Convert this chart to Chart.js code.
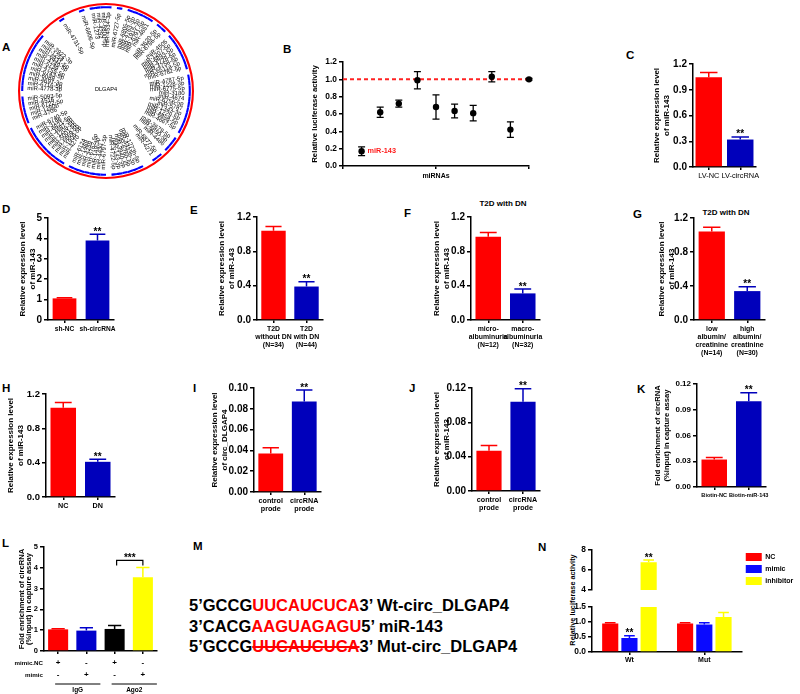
<!DOCTYPE html>
<html>
<head>
<meta charset="utf-8">
<script src="https://cdn.jsdelivr.net/npm/chart.js@4.4.0/dist/chart.umd.min.js"></script>
<style>
  body { margin: 0; width: 800px; height: 694px; position: relative; overflow: hidden; background: #fff;
         font-family: 'Liberation Sans', Arial, sans-serif; color: #000; }
  .lt { position: absolute; font-weight: bold; font-size: 11.5px; line-height: 12px; }
  .sub { position: absolute; font-weight: bold; font-size: 8px; line-height: 10px; white-space: nowrap; transform: translateX(-50%); }
  .vt { position: absolute; font-weight: bold; white-space: nowrap; transform: translate(-50%, -50%) rotate(-90deg); }
  .seq { position: absolute; left: 189px; font-weight: bold; font-size: 16.5px; line-height: 16.5px; white-space: nowrap; }
  .r { color: #ff0000; }
  .s { text-decoration: line-through; text-decoration-color: #ff0000; text-decoration-thickness: 2px; }
</style>
</head>
<body>

<div class="lt" style="left:2px;top:41px">A</div>
<div class="lt" style="left:283px;top:43px">B</div>
<div class="lt" style="left:626px;top:49px">C</div>
<div class="lt" style="left:2px;top:203px">D</div>
<div class="lt" style="left:190px;top:204px">E</div>
<div class="lt" style="left:404px;top:207px">F</div>
<div class="lt" style="left:633px;top:208px">G</div>
<div class="lt" style="left:2px;top:382px">H</div>
<div class="lt" style="left:193px;top:382px">I</div>
<div class="lt" style="left:409px;top:382px">J</div>
<div class="lt" style="left:637px;top:383px">K</div>
<div class="lt" style="left:2px;top:537px">L</div>
<div class="lt" style="left:193px;top:540px">M</div>
<div class="lt" style="left:538px;top:541px">N</div>

<div class="sub" style="left:503px;top:199px">T2D with DN</div>
<div class="sub" style="left:726px;top:208px">T2D with DN</div>

<div class="seq" style="top:597px">5’GCCG<span class="r">UUCAUCUCA</span>3’ Wt-circ_DLGAP4</div>
<div class="seq" style="top:618px">3’CACG<span class="r">AAGUAGAGU</span>5’ miR-143</div>
<div class="seq" style="top:638px">5’GCCG<span class="r s">UUCAUCUCA</span>3’ Mut-circ_DLGAP4</div>

<div class="vt" style="left:572px;top:600px;font-size:7.3px">Relative luciferase activity</div>

<script>
// ---------- DATA ----------
// A: predicted miRNAs around DLGAP4 ('' = empty slot on the ring)
const circNames = [
  'miR-4534-3p', '', 'miR-6727-5p', '',
  'miR-6805-5p', 'miR-4763-3p', 'miR-1915-3p', 'miR-6791-5p', 'miR-4651', '',
  'miR-3620-5p', 'miR-6786-5p', '',
  'miR-4505', 'miR-1207-5p', 'miR-6893-5p', 'miR-4728-5p', 'miR-4758-5p', 'miR-6511a-5p', 'miR-6782-5p', '',
  'miR-4787-5p', 'miR-1228-3p', 'miR-6775-5p', 'miR-3180', 'miR-4674',
  'miR-6756-5p', 'miR-5787', 'miR-1343-3p', 'miR-1229-5p', 'miR-6858-5p', 'miR-4667-5p', '',
  'miR-3679-5p', 'miR-6850-5p', 'miR-4486', '',
  'miR-6877-5p', 'miR-4271', '', '',
  'miR-1273h-5p', 'miR-4433b-3p',
  'miR-6760-5p', 'miR-3940-5p', 'miR-143-3p', 'miR-4722-5p', '',
  'miR-6797-5p', 'miR-4430', 'miR-149-3p', 'miR-6762-5p', 'miR-4259', 'miR-1469', 'miR-6124', '',
  'miR-4270', 'miR-1908-5p', 'miR-6869-5p', 'miR-5001-5p', 'miR-1208-5p', 'miR-4687-3p', 'miR-6821-5p', 'miR-3196', 'miR-6740-5p', '',
  'miR-4706', 'miR-1260b', 'miR-6722-5p', 'miR-4516', 'miR-5093-5p', '',
  'miR-4778-3p', 'miR-6716-5p', 'miR-4697-3p',
  'miR-6089', 'miR-6743-5p', 'miR-4755-5p', 'miR-5739', 'miR-4749-5p', 'miR-6831-5p', 'miR-1254', 'miR-3922-3p',
  '', '', '', '',
  'miR-4731-5p', '', '', '',
  'miR-6806-5p', '',
  'miR-1273', 'miR-4292', 'miR-6800-5p'
];
const CIRC_CENTER = 'DLGAP4';

// B: luciferase screen
const B_X = [1, 2, 3, 4, 5, 6, 7, 8, 9, 10];
const B_VAL = [0.17, 0.62, 0.72, 0.99, 0.68, 0.635, 0.61, 1.03, 0.42, 1.00];
const B_ERR = [0.05, 0.06, 0.04, 0.10, 0.14, 0.08, 0.09, 0.06, 0.09, 0.01];
const B_REF = 1.0;
const B_XMIN = 0, B_XMAX = 10;

// C
const C_LABELS = ['LV-NC', 'LV-circRNA'];
const C_VAL = [1.045, 0.32];
const C_ERR = [0.055, 0.03];
// D
const D_LABELS = ['sh-NC', 'sh-circRNA'];
const D_VAL = [1.06, 3.9];
const D_ERR = [0.03, 0.3];
// E
const E_LABELS = [['T2D', 'without DN', '(N=34)'], ['T2D', 'with DN', '(N=44)']];
const E_VAL = [1.04, 0.39];
const E_ERR = [0.05, 0.055];
// F
const F_LABELS = [['micro-', 'albuminuria', '(N=12)'], ['macro-', 'albuminuria', '(N=32)']];
const F_VAL = [0.97, 0.31];
const F_ERR = [0.05, 0.05];
// G
const G_LABELS = [['low', 'albumin/', 'creatinine', '(N=14)'], ['high', 'albumin/', 'creatinine', '(N=30)']];
const G_VAL = [1.04, 0.34];
const G_ERR = [0.05, 0.05];
// H
const H_LABELS = ['NC', 'DN'];
const H_VAL = [1.04, 0.41];
const H_ERR = [0.06, 0.03];
// I
const I_LABELS = [['control', 'prode'], ['circRNA', 'prode']];
const I_VAL = [0.037, 0.087];
const I_ERR = [0.0055, 0.011];
// J
const J_LABELS = [['control', 'prode'], ['circRNA', 'prode']];
const J_VAL = [0.047, 0.104];
const J_ERR = [0.006, 0.015];
// K
const K_LABELS = ['Biotin-NC', 'Biotin-miR-143'];
const K_VAL = [0.032, 0.100];
const K_ERR = [0.0025, 0.0097];
// L: RIP
const L_COND = ['IgG mimic.NC', 'IgG mimic', 'Ago2 mimic.NC', 'Ago2 mimic'];
const L_VAL = [1.04, 0.98, 1.06, 3.54];
const L_ERR = [0.03, 0.14, 0.16, 0.48];
const L_MIMICNC = ['+', '-', '+', '-'];
const L_MIMIC = ['-', '+', '-', '+'];
const L_GROUPS = [{ label: 'IgG', from: 0, to: 1 }, { label: 'Ago2', from: 2, to: 3 }];
// N: luciferase Wt / Mut
const N_LABELS = ['Wt', 'Mut'];
const N_NC = [0.95, 0.95];
const N_NC_ERR = [0.03, 0.03];
const N_MIMIC = [0.47, 0.92];
const N_MIMIC_ERR = [0.07, 0.06];
const N_INHIB = [6.78, 1.17];
const N_INHIB_ERR = [0.22, 0.15];

const RED = '#ff0000', BLUE = '#0000bb', NBLUE = '#0a0aff', BLACK = '#000000', YELLOW = '#ffff00';

Chart.defaults.font.family = "'Liberation Sans', Arial, sans-serif";
Chart.defaults.color = '#000';

// ---------- HELPERS ----------
function place(l, t, w, h) {
  const c = document.createElement('canvas');
  c.width = w; c.height = h;
  c.style.cssText = `position:absolute;left:${l}px;top:${t}px;width:${w}px;height:${h}px`;
  document.body.appendChild(c);
  return c;
}

// upward SEM whisker + significance stars above bars
const errPlugin = {
  id: 'errBars',
  afterDatasetsDraw(chart) {
    const { ctx } = chart, y = chart.scales.y;
    chart.data.datasets.forEach((ds, di) => {
      if (!ds.errs) return;
      chart.getDatasetMeta(di).data.forEach((bar, i) => {
        const v = ds.data[i], e = ds.errs[i];
        if (v == null || v < y.min || v + e > y.max + 1e-9) return;
        const col = Array.isArray(ds.backgroundColor) ? ds.backgroundColor[i] : ds.backgroundColor;
        const yv = y.getPixelForValue(v), yt = y.getPixelForValue(v + e);
        const cap = Math.max(3, bar.width * 0.33);
        ctx.save();
        ctx.strokeStyle = col; ctx.lineWidth = 1.5;
        ctx.beginPath();
        ctx.moveTo(bar.x, yv); ctx.lineTo(bar.x, yt);
        ctx.moveTo(bar.x - cap, yt); ctx.lineTo(bar.x + cap, yt);
        ctx.stroke();
        if (ds.stars && ds.stars[i]) {
          ctx.fillStyle = '#000';
          ctx.font = "bold 10px 'Liberation Sans'";
          ctx.textAlign = 'center'; ctx.textBaseline = 'alphabetic';
          ctx.fillText(ds.stars[i], bar.x, yt + 0.5);
        }
        ctx.restore();
      });
    });
  }
};

function xCat(o) {
  const ax = {
    display: o.xDisplay ?? true,
    afterFit: s => { s.height = o.xH; },
    border: { color: '#000', width: 1.5 },
    grid: { drawOnChartArea: false, drawTicks: true, tickLength: 3, color: '#000', lineWidth: 1.5, offset: false },
    ticks: { padding: o.xPad ?? 2, autoSkip: false, maxRotation: 0, color: '#000',
             font: { size: o.labelSize ?? 7.2, weight: o.labelWeight ?? 'bold', lineHeight: 1.15 } }
  };
  if (o.hideLabels) ax.ticks.callback = () => '';
  return ax;
}

function yLin(o) {
  return {
    min: o.min, max: o.max,
    afterFit: s => { s.width = o.yW; },
    border: { color: '#000', width: 1.5 },
    grid: { drawOnChartArea: false, drawTicks: true, tickLength: 4, color: '#000', lineWidth: 1.5 },
    ticks: { stepSize: o.step, padding: 2, color: '#000', font: { size: o.tickSize ?? 10, weight: 'bold' },
             callback: v => Number(v).toFixed(o.dec) },
    title: { display: !!o.title, text: o.title || '', padding: 0, color: '#000',
             font: { size: o.titleSize ?? 8, weight: 'bold', lineHeight: o.titleLH ?? 1.2 } }
  };
}

function baseOpts(o, padT, padR, padL) {
  return {
    responsive: false, animation: false, events: [],
    layout: { padding: { top: padT, right: padR, left: padL, bottom: 0 } },
    plugins: { legend: { display: false }, tooltip: { enabled: false } },
    scales: { x: xCat(o), y: yLin(o) }
  };
}

function barPanel(o) {
  const padT = o.padT ?? 12, padR = o.padR ?? 8, padL = o.padL ?? 0;
  const c = place(o.x - o.yW - padL, o.top - padT,
                  o.right - o.x + o.yW + padL + padR, o.bottom - o.top + padT + o.xH);
  return new Chart(c, {
    type: 'bar',
    data: { labels: o.labels, datasets: [{
      data: o.values, errs: o.errs, stars: o.stars, backgroundColor: o.colors,
      borderWidth: 0, barPercentage: o.bp ?? 0.74, categoryPercentage: 1, clip: 0 }] },
    options: baseOpts(o, padT, padR, padL),
    plugins: [errPlugin].concat(o.plugins || [])
  });
}

const EXPR = ['Relative expression level', 'of miR-143'];
const FOLD = ['Fold enrichment of circRNA', '(%input) in capture assay'];

// ---------- A: ring of miRNAs ----------
const ringLabels = {
  id: 'ringLabels',
  afterDatasetsDraw(chart) {
    const { ctx } = chart;
    const arcs = chart.getDatasetMeta(2).data;
    ctx.save();
    ctx.fillStyle = '#000';
    ctx.font = "6px 'Liberation Sans'";
    ctx.textBaseline = 'middle';
    arcs.forEach((arc, i) => {
      const name = circNames[i];
      if (!name) return;
      const a = (arc.startAngle + arc.endAngle) / 2;
      const r = arc.innerRadius - 4;
      ctx.save();
      ctx.translate(arc.x, arc.y);
      if (Math.cos(a) >= 0) { ctx.rotate(a); ctx.textAlign = 'right'; ctx.fillText(name, r, 0); }
      else { ctx.rotate(a + Math.PI); ctx.textAlign = 'left'; ctx.fillText(name, -r, 0); }
      ctx.restore();
    });
    const a0 = arcs[0];
    ctx.textAlign = 'center';
    ctx.font = "5.6px 'Liberation Sans'";
    ctx.fillText(CIRC_CENTER, a0.x, a0.y - 2);
    ctx.restore();
  }
};

new Chart(place(16, 1, 180, 180), {
  type: 'doughnut',
  data: {
    labels: circNames,
    datasets: [
      { data: [1], backgroundColor: RED, borderWidth: 0, weight: 2 },
      { data: [1], backgroundColor: 'rgba(0,0,0,0)', borderWidth: 0, weight: 1 },
      { data: circNames.map(() => 1), backgroundColor: circNames.map(n => n ? '#0000ff' : 'rgba(0,0,0,0)'),
        borderWidth: 0, weight: 2 }
    ]
  },
  options: {
    responsive: false, animation: false, events: [], cutout: '94%',
    layout: { padding: 2 },
    plugins: { legend: { display: false }, tooltip: { enabled: false } }
  },
  plugins: [ringLabels]
});

// ---------- B: scatter with error bars ----------
const scatterErr = {
  id: 'scatterErr',
  afterDatasetsDraw(chart) {
    const { ctx } = chart, y = chart.scales.y;
    const ds = chart.data.datasets[0];
    ctx.save();
    ctx.strokeStyle = '#000'; ctx.lineWidth = 1.3;
    chart.getDatasetMeta(0).data.forEach((pt, i) => {
      const v = B_VAL[i], e = ds.errs[i];
      const y1 = y.getPixelForValue(v + e), y0 = y.getPixelForValue(v - e);
      ctx.beginPath();
      ctx.moveTo(pt.x, y0); ctx.lineTo(pt.x, y1);
      ctx.moveTo(pt.x - 3.5, y0); ctx.lineTo(pt.x + 3.5, y0);
      ctx.moveTo(pt.x - 3.5, y1); ctx.lineTo(pt.x + 3.5, y1);
      ctx.stroke();
    });
    const p0 = chart.getDatasetMeta(0).data[0];
    ctx.fillStyle = '#ff1a1a';
    ctx.font = "bold 7.3px 'Liberation Sans'";
    ctx.textAlign = 'left'; ctx.textBaseline = 'middle';
    ctx.fillText('miR-143', p0.x + 6, p0.y);
    ctx.restore();
  }
};

(function () {
  const o = { x: 343, top: 62, bottom: 166, right: 529, yW: 33, xH: 14,
              min: 0, max: 1.2, step: 0.2, dec: 1, tickSize: 8.4,
              title: 'Relative luciferase activity', titleSize: 7.8 };
  const padT = 8, padR = 6;
  new Chart(place(o.x - o.yW, o.top - padT, o.right - o.x + o.yW + padR, o.bottom - o.top + padT + o.xH), {
    type: 'scatter',
    data: { datasets: [
      { data: B_X.map((x, i) => ({ x, y: B_VAL[i] })), errs: B_ERR, backgroundColor: '#000',
        pointRadius: 3.2, borderWidth: 0, clip: false },
      { type: 'line', data: [{ x: B_XMIN, y: B_REF }, { x: B_XMAX, y: B_REF }], borderColor: '#ff2222',
        borderWidth: 2, borderDash: [4, 3], pointRadius: 0, fill: false }
    ] },
    options: {
      responsive: false, animation: false, events: [],
      layout: { padding: { top: padT, right: padR, left: 0, bottom: 0 } },
      plugins: { legend: { display: false }, tooltip: { enabled: false } },
      scales: {
        x: { type: 'linear', min: B_XMIN, max: B_XMAX,
             afterFit: s => { s.height = o.xH; },
             border: { color: '#000', width: 1.5 },
             grid: { drawOnChartArea: false, drawTicks: true, tickLength: 3, color: '#000', lineWidth: 1.5 },
             ticks: { stepSize: 5, callback: () => '' },
             title: { display: true, text: 'miRNAs', padding: 0, color: '#000', font: { size: 7, weight: 'bold' } } },
        y: yLin(o)
      }
    },
    plugins: [scatterErr]
  });
})();

// ---------- C .. K: two-bar panels ----------
barPanel({ x: 693, top: 64, bottom: 167, right: 756, min: 0, max: 1.2, step: 0.3, dec: 1, yW: 41, xH: 18,
  labels: C_LABELS, values: C_VAL, errs: C_ERR, colors: [RED, BLUE], stars: ['', '**'],
  title: EXPR, labelWeight: 'normal', labelSize: 7.4, bp: 0.84 });

barPanel({ x: 48, top: 218, bottom: 320, right: 114, min: 0, max: 5, step: 1, dec: 0, yW: 30, xH: 16,
  labels: D_LABELS, values: D_VAL, errs: D_ERR, colors: [RED, BLUE], stars: ['', '**'],
  title: EXPR, labelSize: 6.6, bp: 0.72 });

barPanel({ x: 257, top: 217, bottom: 320, right: 323, min: 0, max: 1.2, step: 0.4, dec: 1, yW: 40, xH: 32,
  labels: E_LABELS, values: E_VAL, errs: E_ERR, colors: [RED, BLUE], stars: ['', '**'], title: EXPR, labelSize: 6.9 });

barPanel({ x: 471, top: 217, bottom: 320, right: 540, min: 0, max: 1.2, step: 0.4, dec: 1, yW: 39, xH: 32,
  labels: F_LABELS, values: F_VAL, errs: F_ERR, colors: [RED, BLUE], stars: ['', '**'], title: EXPR, labelSize: 6.9 });

barPanel({ x: 694, top: 218, bottom: 320, right: 765, min: 0, max: 1.2, step: 0.4, dec: 1, yW: 37, xH: 42,
  labels: G_LABELS, values: G_VAL, errs: G_ERR, colors: [RED, BLUE], stars: ['', '**'], title: EXPR, labelSize: 6.9 });

barPanel({ x: 46, top: 394, bottom: 497, right: 115, min: 0, max: 1.2, step: 0.4, dec: 1, yW: 40, xH: 16,
  labels: H_LABELS, values: H_VAL, errs: H_ERR, colors: [RED, BLUE], stars: ['', '**'], title: EXPR, tickSize: 9.5 });

barPanel({ x: 254, top: 388, bottom: 492, right: 321, min: 0, max: 0.10, step: 0.02, dec: 2, yW: 44, xH: 24,
  labels: I_LABELS, values: I_VAL, errs: I_ERR, colors: [RED, BLUE], stars: ['', '**'],
  title: ['Relative expression level', 'of circ_DLGAP4'] });

barPanel({ x: 472, top: 388, bottom: 491, right: 540, min: 0, max: 0.12, step: 0.04, dec: 2, yW: 40, xH: 24,
  labels: J_LABELS, values: J_VAL, errs: J_ERR, colors: [RED, BLUE], stars: ['', '**'], title: EXPR });

barPanel({ x: 697, top: 384, bottom: 487, right: 766, min: 0, max: 0.12, step: 0.03, dec: 2, yW: 43, xH: 16,
  labels: K_LABELS, values: K_VAL, errs: K_ERR, colors: [RED, BLUE], stars: ['', '**'],
  title: FOLD, titleSize: 7.6, titleLH: 1.15, tickSize: 8, labelSize: 5.6 });

// ---------- L: RIP with condition table ----------
const lTable = {
  id: 'lTable',
  afterDraw(chart) {
    const { ctx, chartArea: a } = chart, x = chart.scales.x, y = chart.scales.y;
    ctx.save();
    ctx.fillStyle = '#000'; ctx.strokeStyle = '#000';
    ctx.font = "bold 6.2px 'Liberation Sans'";
    ctx.textBaseline = 'middle';
    ctx.textAlign = 'right';
    ctx.fillText('mimic.NC', a.left - 1, a.bottom + 12);
    ctx.fillText('mimic', a.left - 1, a.bottom + 24);
    ctx.textAlign = 'center';
    ctx.font = "bold 8px 'Liberation Sans'";
    L_MIMICNC.forEach((s, i) => ctx.fillText(s, x.getPixelForValue(i), a.bottom + 12));
    L_MIMIC.forEach((s, i) => ctx.fillText(s, x.getPixelForValue(i), a.bottom + 24));
    ctx.font = "bold 6.5px 'Liberation Sans'";
    ctx.lineWidth = 1;
    L_GROUPS.forEach(g => {
      const x0 = x.getPixelForValue(g.from) - 3, x1 = x.getPixelForValue(g.to) + 14;
      ctx.beginPath(); ctx.moveTo(x0, a.bottom + 33); ctx.lineTo(x1, a.bottom + 33); ctx.stroke();
      ctx.fillText(g.label, (x0 + x1) / 2, a.bottom + 39.5);
    });
    // bracket over the Ago2 pair
    const bx0 = x.getPixelForValue(2) + 2, bx1 = x.getPixelForValue(3);
    const by = y.getPixelForValue(L_VAL[3] + L_ERR[3]) - 7;
    ctx.lineWidth = 1.2;
    ctx.beginPath();
    ctx.moveTo(bx0, by + 5); ctx.lineTo(bx0, by); ctx.lineTo(bx1, by); ctx.lineTo(bx1, by + 5);
    ctx.stroke();
    ctx.font = "bold 10px 'Liberation Sans'";
    ctx.textBaseline = 'alphabetic';
    ctx.fillText('***', (bx0 + bx1) / 2, by + 1);
    ctx.restore();
  }
};

barPanel({ x: 44, top: 547, bottom: 651, right: 157, min: 0, max: 5, step: 1, dec: 0, yW: 26, padL: 18, xH: 43,
  labels: L_COND, hideLabels: true, values: L_VAL, errs: L_ERR, colors: [RED, '#0000cc', BLACK, YELLOW],
  title: FOLD, titleSize: 7.6, titleLH: 1.0, tickSize: 7.5, bp: 0.71, plugins: [lTable] });

// ---------- N: broken-axis grouped bars ----------
(function () {
  const yW = 25, x0 = 592, right = 741, legW = 59;
  const w = right - x0 + yW + legW;
  const sets = () => [
    { label: 'NC', data: N_NC, errs: N_NC_ERR, stars: ['', ''], backgroundColor: RED },
    { label: 'mimic', data: N_MIMIC, errs: N_MIMIC_ERR, stars: ['**', ''], backgroundColor: NBLUE },
    { label: 'inhibitor', data: N_INHIB, errs: N_INHIB_ERR, stars: ['**', ''], backgroundColor: YELLOW }
  ].map(d => Object.assign(d, { borderWidth: 0, barPercentage: 0.84, categoryPercentage: 0.77, clip: 0 }));

  const uo = { min: 4, max: 8, step: 1, dec: 0, yW, tickSize: 8.4, xDisplay: false, xH: 0 };
  const uOpts = baseOpts(uo, 6, 0, 0);
  uOpts.plugins.legend = { display: true, position: 'right', align: 'start',
    labels: { boxWidth: 16, boxHeight: 8, padding: 4, color: '#000', font: { size: 7, weight: 'bold' } } };
  const up = new Chart(place(x0 - yW, 549 - 6, w, 48 + 6), {
    type: 'bar', data: { labels: N_LABELS, datasets: sets() }, options: uOpts, plugins: [errPlugin]
  });

  const lo = { min: 0, max: 1.5, step: 0.5, dec: 1, yW, tickSize: 8.4, xH: 14, xPad: 1, labelSize: 7 };
  const lOpts = baseOpts(lo, 4, w - up.chartArea.right, 0);
  new Chart(place(x0 - yW, 604 - 4, w, 48 + 4 + lo.xH), {
    type: 'bar', data: { labels: N_LABELS, datasets: sets() }, options: lOpts, plugins: [errPlugin]
  });
})();
</script>
</body>
</html>
